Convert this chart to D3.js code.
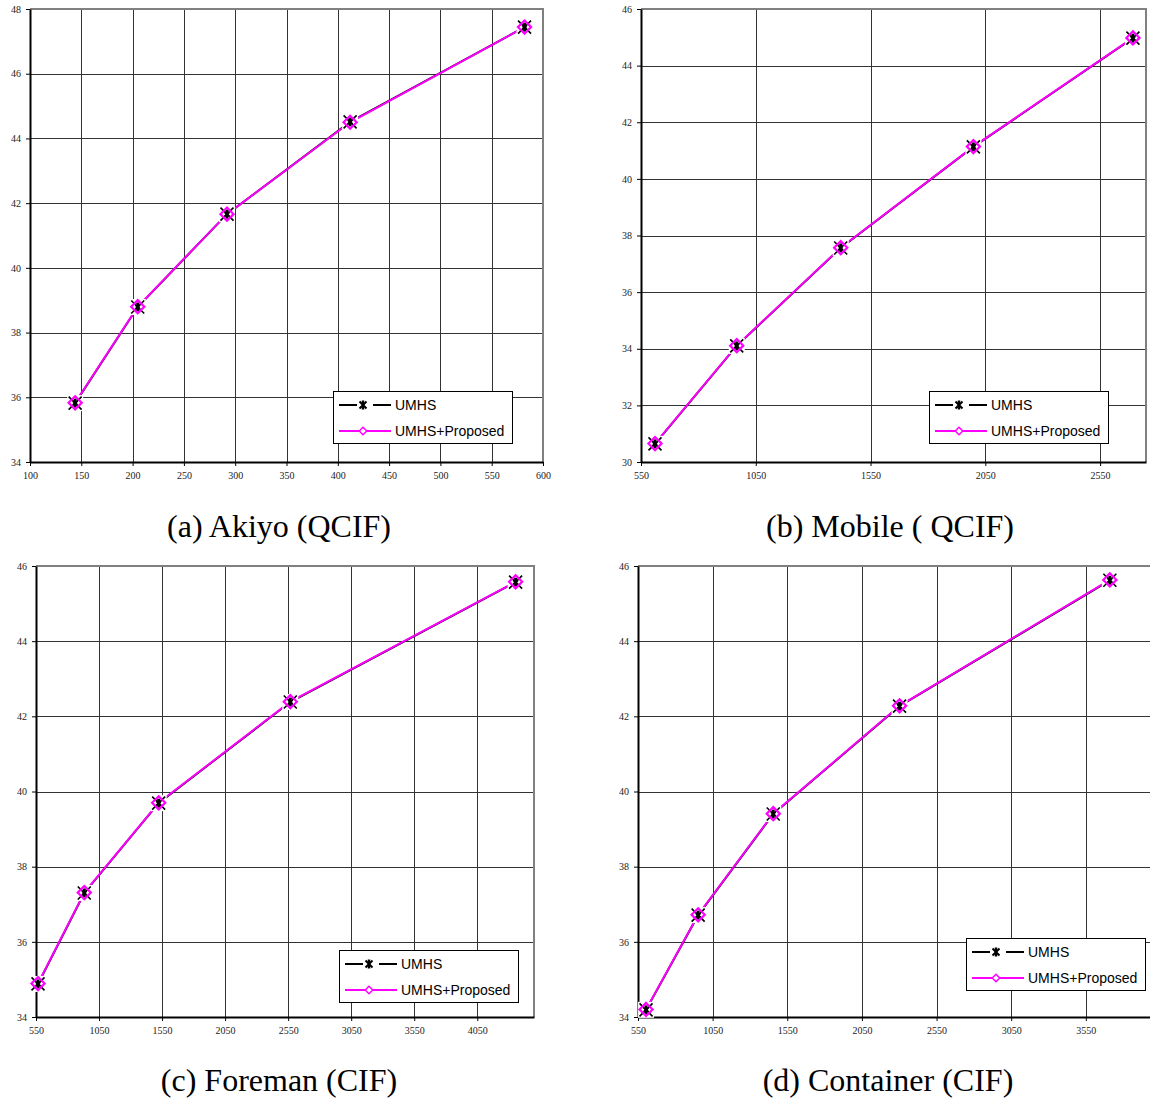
<!DOCTYPE html>
<html lang="en">
<head>
    <meta charset="UTF-8">
    <title>UMHS vs UMHS+Proposed</title>
    <script src="https://cdn.jsdelivr.net/npm/d3@7"></script>
    <style>
      body { margin: 0; background: #fff; }
      .tick-label { font-family: "Liberation Serif", "Times New Roman", serif; font-size: 10px; fill: #222; }
      .legend text { font-family: "Liberation Sans", Arial, sans-serif; font-size: 14px; fill: #000; }
      .caption { font-family: "Liberation Serif", "Times New Roman", serif; font-size: 32px; fill: #000; }
    </style>
</head>
<body>
<div class="chart"></div>
<script>
  // bit rate (kbps) and PSNR (dB)
  const akiyoRate = [144, 205, 292, 412, 582];
  const akiyoUmhs = [35.82, 38.79, 41.66, 44.51, 47.44];
  const akiyoProp = [35.83, 38.80, 41.66, 44.50, 47.44];

  const mobileRate = [611, 967, 1420, 1998, 2693];
  const mobileUmhs = [30.64, 34.10, 37.56, 41.13, 44.97];
  const mobileProp = [30.65, 34.11, 37.57, 41.14, 44.98];

  const foremanRate = [566, 933, 1523, 2567, 4354];
  const foremanUmhs = [34.88, 37.30, 39.69, 42.38, 45.57];
  const foremanProp = [34.89, 37.31, 39.70, 42.39, 45.58];

  const containerRate = [604, 953, 1456, 2302, 3711];
  const containerUmhs = [34.19, 36.71, 39.40, 42.27, 45.62];
  const containerProp = [34.20, 36.72, 39.41, 42.28, 45.63];

  const akiyoXTicks = [100, 150, 200, 250, 300, 350, 400, 450, 500, 550, 600];
  const akiyoYTicks = [34, 36, 38, 40, 42, 44, 46, 48];
  const mobileXTicks = [550, 1050, 1550, 2050, 2550];
  const mobileYTicks = [30, 32, 34, 36, 38, 40, 42, 44, 46];
  const foremanXTicks = [550, 1050, 1550, 2050, 2550, 3050, 3550, 4050];
  const foremanYTicks = [34, 36, 38, 40, 42, 44, 46];
  const containerXTicks = [550, 1050, 1550, 2050, 2550, 3050, 3550];
  const containerYTicks = [34, 36, 38, 40, 42, 44, 46];

  const seriesNames = ['UMHS', 'UMHS+Proposed'];
  const captions = ['(a) Akiyo (QCIF)', '(b) Mobile ( QCIF)', '(c) Foreman (CIF)', '(d) Container (CIF)'];

  const panels = [
    {rate: akiyoRate, a: akiyoUmhs, b: akiyoProp, xd: [100, 600], yd: [34, 48], xt: akiyoXTicks, yt: akiyoYTicks,
     box: {l: 30, r: 543, t: 9, b: 462}, leg: {x: 333, y: 391}, cap: {x: 279, y: 537}},
    {rate: mobileRate, a: mobileUmhs, b: mobileProp, xd: [550, 2750], yd: [30, 46], xt: mobileXTicks, yt: mobileYTicks,
     box: {l: 641, r: 1146, t: 9, b: 462}, leg: {x: 929, y: 391}, cap: {x: 890, y: 537}},
    {rate: foremanRate, a: foremanUmhs, b: foremanProp, xd: [550, 4500], yd: [34, 46], xt: foremanXTicks, yt: foremanYTicks,
     box: {l: 36, r: 534, t: 566, b: 1017}, leg: {x: 339, y: 950}, cap: {x: 279, y: 1091}},
    {rate: containerRate, a: containerUmhs, b: containerProp, xd: [550, 4000], yd: [34, 46], xt: containerXTicks, yt: containerYTicks,
     box: {l: 638, r: 1153, t: 566, b: 1017}, leg: {x: 966, y: 938}, cap: {x: 888, y: 1091}}
  ];

  const svg = d3.select('.chart').append('svg').attr('width', 1150).attr('height', 1101);

  const diamond = d3.symbol().type(d3.symbolDiamond2).size(110);

  function drawStar(g) {
    g.append('rect').attr('x', -8).attr('y', -8).attr('width', 16).attr('height', 16).attr('fill', '#fff');
    g.append('path').attr('d', 'M-6.5,-6.5L6.5,6.5M-6.5,6.5L6.5,-6.5').attr('stroke', '#000').attr('stroke-width', 1.6).attr('fill', 'none');
  }
  function drawDiamond(g) {
    g.append('path').attr('d', diamond()).attr('stroke', '#ff00ff').attr('stroke-width', 2.2).attr('fill', 'none');
  }
  function drawStarCore(g) {
    g.append('path').attr('d', 'M0,-4.5L0,4.5').attr('stroke', '#000').attr('stroke-width', 3);
    g.append('path').attr('d', 'M-2.5,-1.5L2.5,1.5M-2.5,1.5L2.5,-1.5').attr('stroke', '#000').attr('stroke-width', 1.2);
  }

  panels.forEach((p, i) => {
    const x = d3.scaleLinear().domain(p.xd).range([p.box.l, p.box.r]);
    const y = d3.scaleLinear().domain(p.yd).range([p.box.b, p.box.t]);
    const g = svg.append('g');

    // grid
    g.append('g').selectAll('line').data(p.yt.slice(1)).enter().append('line')
      .attr('x1', p.box.l).attr('x2', p.box.r).attr('y1', d => Math.round(y(d)) + 0.5).attr('y2', d => Math.round(y(d)) + 0.5)
      .attr('stroke', '#333').attr('stroke-width', 1);
    g.append('g').selectAll('line').data(p.xt.slice(1)).enter().append('line')
      .attr('y1', p.box.t).attr('y2', p.box.b).attr('x1', d => Math.round(x(d)) + 0.5).attr('x2', d => Math.round(x(d)) + 0.5)
      .attr('stroke', '#333').attr('stroke-width', 1);

    // frame: grey top / right, black axes
    g.append('path').attr('d', `M${p.box.l},${p.box.t}H${p.box.r}V${p.box.b}`)
      .attr('stroke', '#808080').attr('stroke-width', 2).attr('fill', 'none');

    const xAxis = d3.axisBottom(x).tickValues(p.xt).tickFormat(d3.format('d')).tickSize(4).tickSizeOuter(0).tickPadding(6);
    const yAxis = d3.axisLeft(y).tickValues(p.yt).tickFormat(d3.format('d')).tickSize(4).tickSizeOuter(0).tickPadding(5);
    const gx = g.append('g').attr('transform', `translate(0 ${p.box.b})`).call(xAxis);
    const gy = g.append('g').attr('transform', `translate(${p.box.l} 0)`).call(yAxis);
    [gx, gy].forEach(ax => {
      ax.select('.domain').attr('stroke', '#000').attr('stroke-width', 2);
      ax.selectAll('.tick line').attr('stroke', '#000');
      ax.selectAll('.tick text').attr('class', 'tick-label').attr('font-family', null).attr('font-size', null).attr('fill', null);
    });

    // lines
    const pts = (vals) => p.rate.map((r, k) => [r, vals[k]]);
    const line = d3.line().x(d => x(d[0])).y(d => y(d[1]));
    g.append('path').attr('d', line(pts(p.a))).attr('stroke', '#000').attr('stroke-width', 2).attr('fill', 'none');
    g.append('path').attr('d', line(pts(p.b))).attr('stroke', '#ff00ff').attr('stroke-width', 2).attr('fill', 'none');

    // markers
    pts(p.a).forEach((d, k) => {
      const m = g.append('g').attr('transform', `translate(${x(d[0])} ${y(d[1])})`);
      drawStar(m);
      const m2 = g.append('g').attr('transform', `translate(${x(p.rate[k])} ${y(p.b[k])})`);
      drawDiamond(m2);
      drawStarCore(m);
    });

    // legend
    const lg = g.append('g').attr('class', 'legend').attr('transform', `translate(${p.leg.x} ${p.leg.y})`);
    lg.append('rect').attr('x', 0.5).attr('y', 0.5).attr('width', 179).attr('height', 52)
      .attr('fill', '#fff').attr('stroke', '#000').attr('stroke-width', 1);
    const r1 = 14, r2 = 40;
    lg.append('path').attr('d', `M6,${r1}H24M40,${r1}H58`).attr('stroke', '#000').attr('stroke-width', 2);
    const lm = lg.append('g').attr('transform', `translate(30 ${r1})`);
    lm.append('path').attr('d', 'M-3.5,-3.5L3.5,3.5M-3.5,3.5L3.5,-3.5').attr('stroke', '#000').attr('stroke-width', 2);
    lm.append('path').attr('d', 'M0,-4.5L0,4.5').attr('stroke', '#000').attr('stroke-width', 2.5);
    lg.append('path').attr('d', `M6,${r2}H58`).attr('stroke', '#ff00ff').attr('stroke-width', 2);
    lg.append('path').attr('transform', `translate(30 ${r2})`).attr('d', d3.symbol().type(d3.symbolDiamond2).size(36)())
      .attr('stroke', '#ff00ff').attr('stroke-width', 1.5).attr('fill', '#fff');
    lg.append('text').attr('x', 62).attr('y', r1 + 5).text(seriesNames[0]);
    lg.append('text').attr('x', 62).attr('y', r2 + 5).text(seriesNames[1]);

    // caption
    svg.append('text').attr('class', 'caption').attr('x', p.cap.x).attr('y', p.cap.y)
      .attr('text-anchor', 'middle').text(captions[i]);
  });
</script>
</body>
</html>
